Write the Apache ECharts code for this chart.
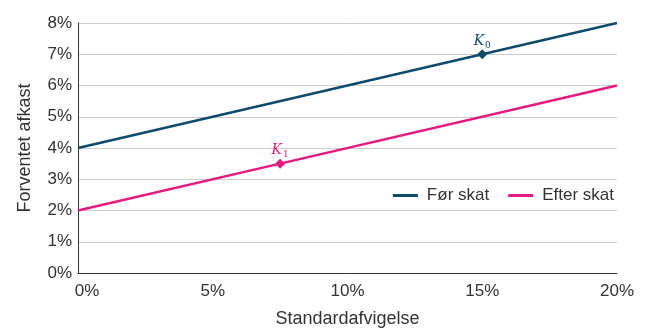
<!DOCTYPE html>
<html><head><meta charset="utf-8">
<script src="https://cdn.jsdelivr.net/npm/echarts@6/dist/echarts.min.js"></script>
<style>html,body{margin:0;padding:0;background:#fff}#c{width:650px;height:329px}</style>
</head><body><div id="c"></div>
<script>
const xTicks = [0, 5, 10, 15, 20];
const yTicks = [0, 1, 2, 3, 4, 5, 6, 7, 8];
const forX = [0, 15, 20];
const forY = [4, 7, 8];
const efterX = [0, 7.5, 20];
const efterY = [2, 3.5, 6];
const forPointIndex = 1, efterPointIndex = 1;
const forName = 'Før skat', efterName = 'Efter skat';
const c1 = '#0d4a6c', c2 = '#e5197f';
const font = 'Liberation Sans';

function build(xs, ys, pi, sub, color) {
  return xs.map((x, i) => i === pi ? {
    value: [x, ys[i]], symbol: 'diamond', symbolSize: 10,
    label: {show: true, position: 'top', distance: 1, formatter: '{k|K}{s|' + sub + '}',
      rich: {k: {fontFamily: 'DejaVu Serif', fontStyle: 'italic', fontSize: 14, color: color, verticalAlign: 'bottom'},
             s: {fontFamily: 'DejaVu Serif', fontSize: 9, color: color, verticalAlign: 'bottom', padding: [0,0,-2,1]}}}
  } : {value: [x, ys[i]], symbol: 'none'});
}

const chart = echarts.init(document.getElementById('c'));
chart.setOption({
  animation: false,
  textStyle: {fontFamily: font},
  grid: {left: 78, right: 33, top: 23, bottom: 56, containLabel: false, outerBoundsMode: 'none'},
  legend: {right: 31, top: 182, itemWidth: 25, itemHeight: 3, itemGap: 19,
    icon: 'rect',
    textStyle: {fontFamily: font, fontSize: 17, color: '#333', padding: [0,0,0,4]},
    data: [forName, efterName]},
  xAxis: {type: 'value', min: xTicks[0], max: xTicks[xTicks.length-1], interval: 5,
    name: 'Standardafvigelse', nameLocation: 'middle', nameGap: 37,
    nameTextStyle: {fontFamily: font, fontSize: 18, color: '#333'},
    axisLine: {show: true, lineStyle: {color: '#333', width: 1}}, axisTick: {show: false},
    splitLine: {show: false},
    axisLabel: {margin: 10, fontSize: 17, color: '#333', fontFamily: font,
      formatter: v => v === 0 ? '{f|0%}' : v + '%',
      rich: {f: {fontSize: 17, color: '#333', fontFamily: font, padding: [0,0,0,18]}}}},
  yAxis: {type: 'value', min: yTicks[0], max: yTicks[yTicks.length-1], interval: 1,
    name: 'Forventet afkast', nameLocation: 'middle', nameGap: 44,
    nameTextStyle: {fontFamily: font, fontSize: 18, color: '#333'},
    axisLine: {show: true, lineStyle: {color: '#333', width: 1}}, axisTick: {show: false},
    splitLine: {show: true, lineStyle: {color: '#cccccc', width: 1}},
    axisLabel: {margin: 6, fontSize: 17, color: '#333', fontFamily: font, formatter: v => v + '%'}},
  series: [
    {name: forName, type: 'line', data: build(forX, forY, forPointIndex, '0', c1),
     lineStyle: {color: c1, width: 2.5}, itemStyle: {color: c1}, showSymbol: true, z: 3},
    {name: efterName, type: 'line', data: build(efterX, efterY, efterPointIndex, '1', c2),
     lineStyle: {color: c2, width: 2.5}, itemStyle: {color: c2}, showSymbol: true, z: 3}
  ]
});
</script></body></html>
